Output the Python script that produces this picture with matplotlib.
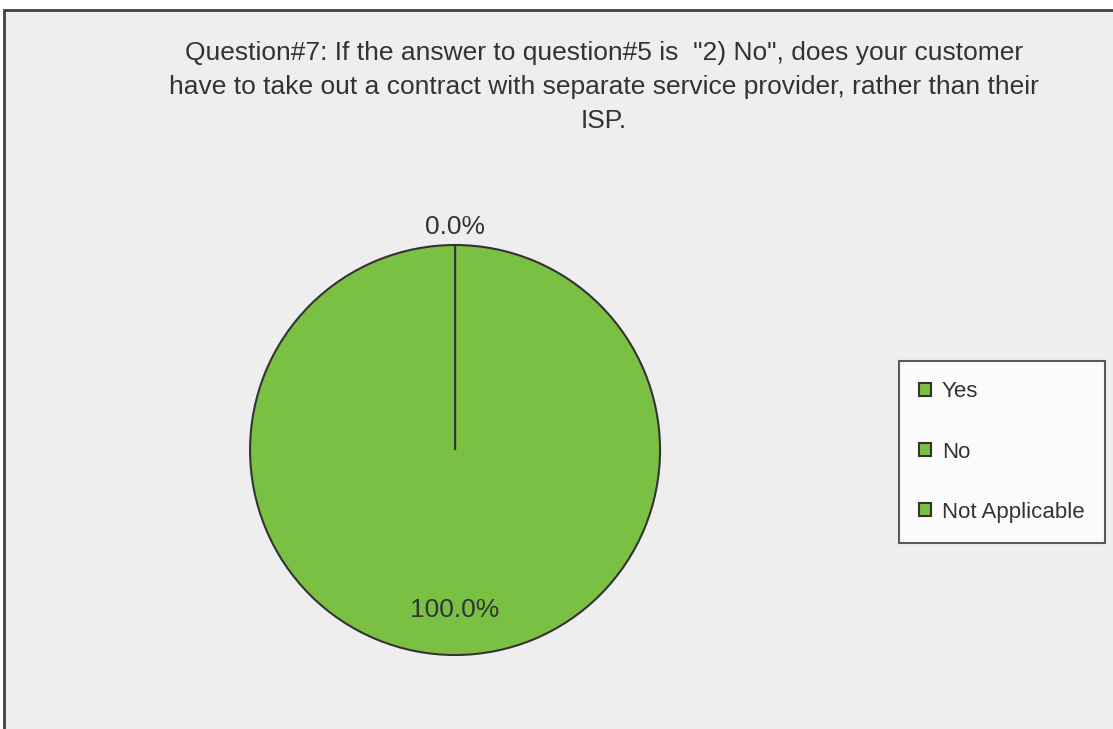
import numpy as np
import matplotlib.pyplot as plt
from matplotlib.patches import Rectangle, Patch

# ----------------------
# Data
# ----------------------
categories = ['Yes', 'No', 'Not Applicable']
shares = [0.0, 100.0, 0.0]
show_label = [True, True, False]   # Excel only labelled the first two slices

title = ('Question#7: If the answer to question#5 is  "2) No", does your customer\n'
         'have to take out a contract with separate service provider, rather than their\n'
         'ISP.')

# ----------------------
# Style
# ----------------------
plt.rcParams['font.family'] = ['Liberation Sans', 'DejaVu Sans']
green = '#7ac143'
edge = '#333333'
text_col = '#333333'

fig = plt.figure(figsize=(11.13, 7.29), dpi=100)
fig.patch.set_facecolor('white')

# chart area with dark border (clipped at right/bottom like the screenshot)
fig.patches.append(Rectangle((4 / 1113, -0.05), 1.05, 1 - 10 / 729 + 0.05,
                             transform=fig.transFigure, facecolor='#eeeeee',
                             edgecolor='#404040', linewidth=2, zorder=-1))

fig.text(604 / 1113, 1 - 41 / 729, title, ha='center', va='top',
         fontsize=19, color=text_col, linespacing=1.52, zorder=3)

# ----------------------
# Pie
# ----------------------
ax = fig.add_axes([0.1786, 0.0312, 0.4605, 0.703])
ax.set_zorder(2)
wedges, _ = ax.pie(shares, colors=[green] * len(shares), startangle=90,
                   counterclock=False, radius=1,
                   wedgeprops=dict(edgecolor=edge, linewidth=1.5))
for w, v in zip(wedges, shares):
    if v == 0:
        w.set_zorder(3)

for w, v, show in zip(wedges, shares, show_label):
    if not show:
        continue
    ang = np.deg2rad((w.theta1 + w.theta2) / 2)
    dist = 1.09 if v < 5 else 0.78
    ax.text(dist * np.cos(ang), dist * np.sin(ang), f'{v:.1f}%',
            ha='center', va='center', fontsize=19, color=text_col, zorder=5)

# ----------------------
# Legend
# ----------------------
handles = [Patch(facecolor=green, edgecolor=edge, linewidth=1.5) for _ in categories]
leg = fig.legend(handles, categories, loc='center left',
                 bbox_to_anchor=(899 / 1113, 1 - 452 / 729),
                 fontsize=16, frameon=True, fancybox=False,
                 handlelength=0.5, handleheight=0.5, handletextpad=0.5,
                 labelspacing=1.76, borderpad=0.92, borderaxespad=0)
leg.set_zorder(4)
leg.get_frame().set_edgecolor(edge)
leg.get_frame().set_linewidth(1.5)
leg.get_frame().set_facecolor('white')
for t in leg.get_texts():
    t.set_color(text_col)

plt.savefig('out.png', dpi=100)
